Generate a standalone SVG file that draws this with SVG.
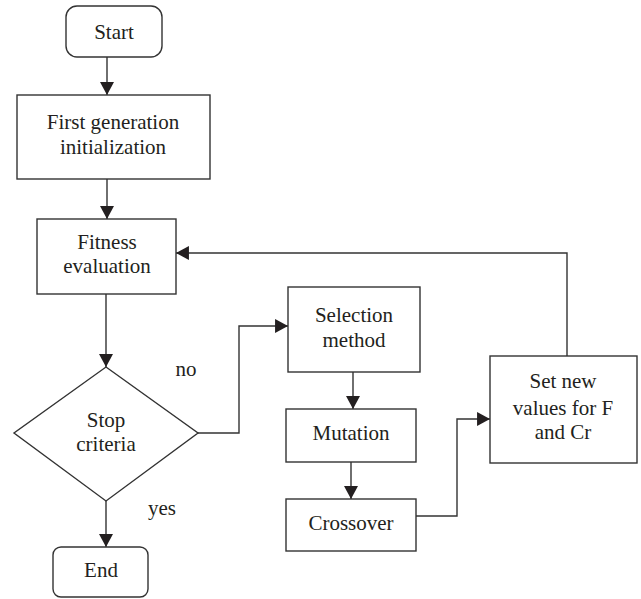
<svg xmlns="http://www.w3.org/2000/svg" width="641" height="599" viewBox="0 0 641 599">
<style>
.box{fill:#fff;stroke:#333;stroke-width:1.4}
.lbl{font-family:"Liberation Serif",serif;font-size:21px;fill:#231f20;text-anchor:middle}
.con{fill:none;stroke:#333;stroke-width:1.4}
</style>
<defs>
<marker id="ah" markerUnits="userSpaceOnUse" markerWidth="14" markerHeight="14" viewBox="0 0 12 13" refX="12" refY="6.5" orient="auto">
<path d="M0,0 L12,6.5 L0,13 Z" fill="#231f20"/>
</marker>
</defs>
<rect width="641" height="599" fill="#fff"/>
<g id="connectors">
<line class="con" x1="107" y1="57" x2="107" y2="95" marker-end="url(#ah)"/>
<line class="con" x1="107" y1="179" x2="107" y2="219" marker-end="url(#ah)"/>
<line class="con" x1="106" y1="294" x2="106" y2="367" marker-end="url(#ah)"/>
<line class="con" x1="106" y1="501" x2="106" y2="547" marker-end="url(#ah)"/>
<polyline class="con" points="198,433 239,433 239,326 288,326" marker-end="url(#ah)"/>
<line class="con" x1="353" y1="372" x2="353" y2="409" marker-end="url(#ah)"/>
<line class="con" x1="351" y1="462" x2="351" y2="499" marker-end="url(#ah)"/>
<polyline class="con" points="416,516 457,516 457,419 490,419" marker-end="url(#ah)"/>
<polyline class="con" points="567,356 567,253 176,253" marker-end="url(#ah)"/>
<text class="lbl" x="186" y="376">no</text>
<text class="lbl" x="162" y="515">yes</text>
</g>
<g id="start">
<rect class="box" x="66" y="6" width="96" height="51" rx="11"/>
<text class="lbl" x="114" y="39">Start</text>
</g>
<g id="init">
<rect class="box" x="17" y="95" width="193" height="84"/>
<text class="lbl" x="113" y="129">First generation</text>
<text class="lbl" x="113" y="154">initialization</text>
</g>
<g id="fitness">
<rect class="box" x="37" y="219" width="139" height="75"/>
<text class="lbl" x="107" y="249">Fitness</text>
<text class="lbl" x="107" y="273">evaluation</text>
</g>
<g id="stop">
<polygon class="box" points="106,367 198,433 106,501 14,433"/>
<text class="lbl" x="106" y="427">Stop</text>
<text class="lbl" x="106" y="451">criteria</text>
</g>
<g id="end">
<rect class="box" x="53" y="547" width="95" height="50" rx="8"/>
<text class="lbl" x="101" y="577">End</text>
</g>
<g id="selection">
<rect class="box" x="288" y="287" width="132" height="85"/>
<text class="lbl" x="354" y="322">Selection</text>
<text class="lbl" x="354" y="347">method</text>
</g>
<g id="mutation">
<rect class="box" x="286" y="409" width="130" height="53"/>
<text class="lbl" x="351" y="440">Mutation</text>
</g>
<g id="crossover">
<rect class="box" x="286" y="499" width="130" height="52"/>
<text class="lbl" x="351" y="530">Crossover</text>
</g>
<g id="setnew">
<rect class="box" x="490" y="356" width="147" height="107"/>
<text class="lbl" x="563" y="388">Set new</text>
<text class="lbl" x="563" y="415">values for F</text>
<text class="lbl" x="563" y="439">and Cr</text>
</g>
</svg>
